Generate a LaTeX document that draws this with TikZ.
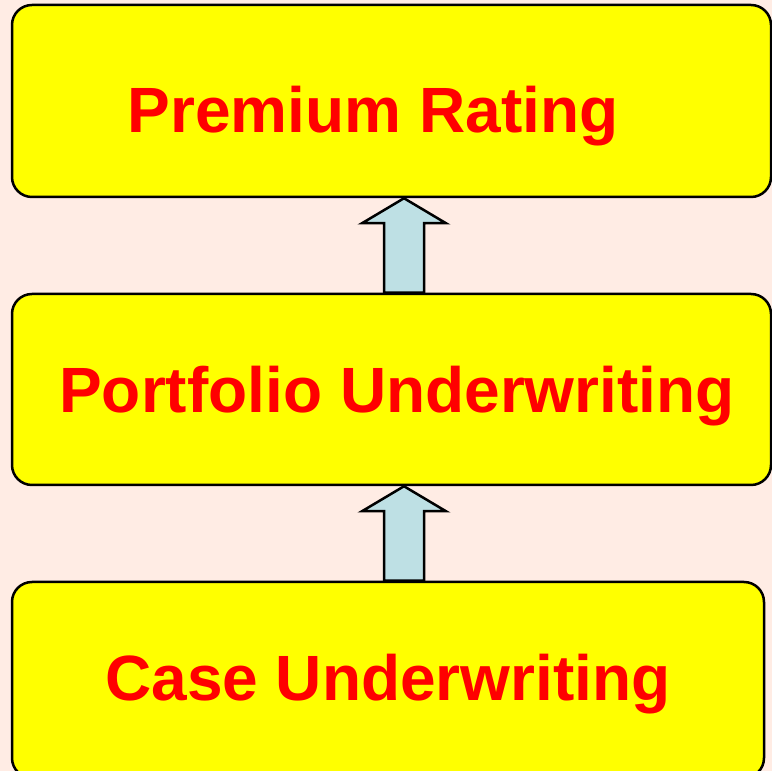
\documentclass[tikz,border=0pt]{standalone}
\usepackage{fontspec}
\setmainfont{Liberation Sans}
\usetikzlibrary{calc, positioning}
\usepackage{xcolor}
\definecolor{bgpink}{RGB}{255, 236, 228}
\definecolor{boxyellow}{RGB}{255, 255, 0}
\definecolor{txtred}{RGB}{255, 0, 0}
\definecolor{arrblue}{RGB}{190, 224, 228}

\begin{document}
\begin{tikzpicture}[
  x=1pt, y=1pt,
  ybox/.style={rectangle, rounded corners=20pt, draw=black, line width=2.5pt,
               fill=boxyellow, inner sep=0pt},
  ytext/.style={anchor=base, text=txtred, inner sep=0pt,
                font=\fontsize{64}{70}\selectfont\bfseries},
  uparr/.style={draw=black, line width=2.5pt, fill=arrblue, line join=miter}
]
\useasboundingbox (0,0) rectangle (772,771);
\fill[bgpink] (0,0) rectangle (772,771);
% the three levels
\node[ybox, minimum width=759pt, minimum height=192pt] (rating) at (391.5,670) {};
\node[ybox, minimum width=759pt, minimum height=191pt] (portfolio) at (391.5,381.5) {};
\node[ybox, minimum width=752pt, minimum height=196pt] (case) at (388,91) {};
\node[ytext] (ratingtxt) at (373,638) {Premium Rating};
\node[ytext] (portfoliotxt) at (397,358) {Portfolio Underwriting};
\node[ytext] (casetxt) at (388,70) {Case Underwriting};
% block arrows between levels
\coordinate (ax) at (404,0);
\draw[uparr] ($(ax |- portfolio.north)+(-20,0)$) -- ($(ax |- rating.south)+(-20,-25)$)
  -- ($(ax |- rating.south)+(-42,-25)$) -- (ax |- rating.south)
  -- ($(ax |- rating.south)+(42,-25)$) -- ($(ax |- rating.south)+(20,-25)$)
  -- ($(ax |- portfolio.north)+(20,0)$) -- cycle;
\draw[uparr] ($(ax |- case.north)+(-20,0)$) -- ($(ax |- portfolio.south)+(-20,-25)$)
  -- ($(ax |- portfolio.south)+(-42,-25)$) -- (ax |- portfolio.south)
  -- ($(ax |- portfolio.south)+(42,-25)$) -- ($(ax |- portfolio.south)+(20,-25)$)
  -- ($(ax |- case.north)+(20,0)$) -- cycle;
\end{tikzpicture}
\end{document}
